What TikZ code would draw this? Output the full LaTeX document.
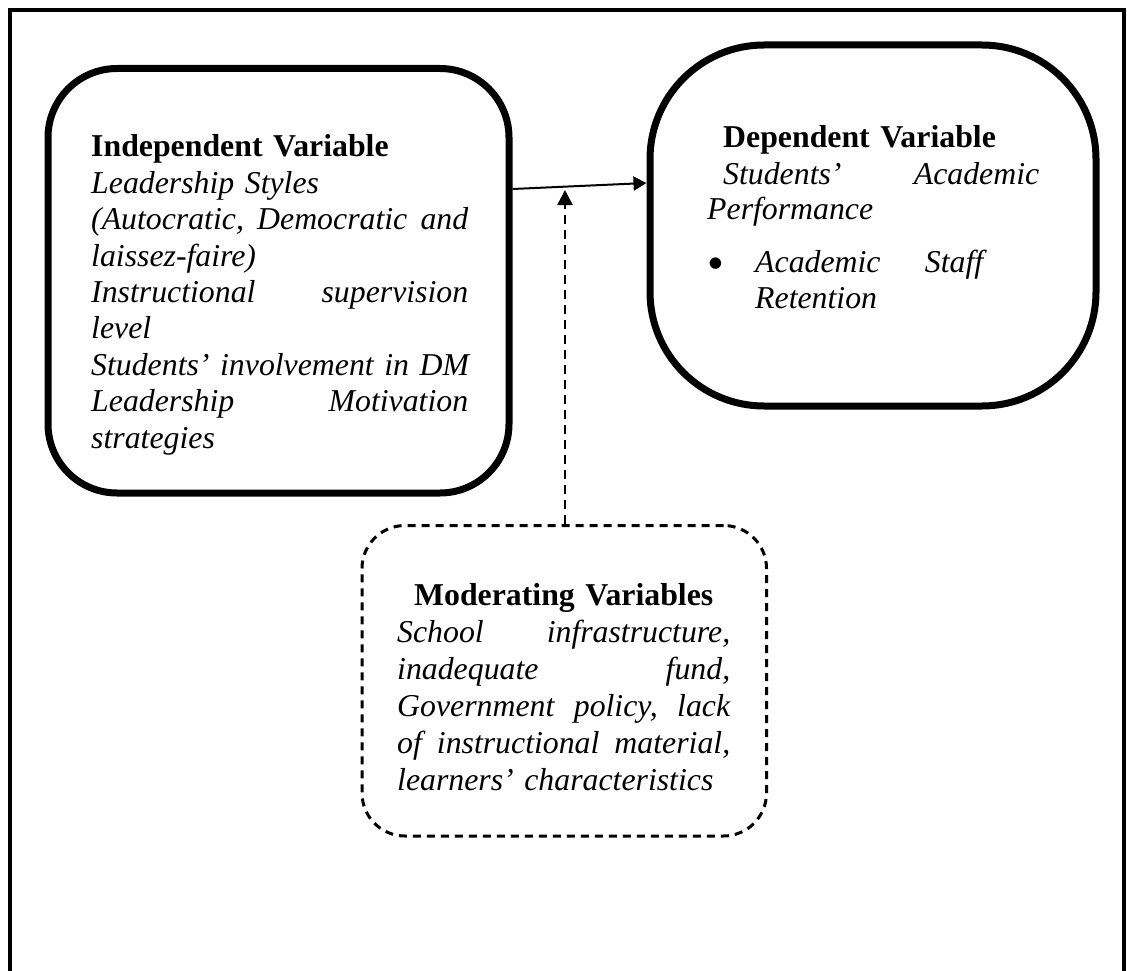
\documentclass[tikz,border=0pt]{standalone}
\usepackage{fontspec}
\setmainfont{Liberation Serif}
\usetikzlibrary{arrows.meta}
% a line whose words are spread over a fixed width
\newcommand\spreadline[2]{\leavevmode\hbox to #1{#2}}
\begin{document}
\begin{tikzpicture}[x=1pt,y=-1pt,
  varbox/.style={draw, line width=7pt, rounded corners=#1, inner sep=0pt},
  modbox/.style={draw, line width=3pt, dash pattern=on 8pt off 6pt,
    rounded corners=43pt, inner sep=0pt},
  boxtext/.style={inner sep=0pt, anchor=base west, align=left, text width=450pt,
    font=\fontsize{31.8pt}{36.4pt}\selectfont\itshape},
  conn/.style={line width=2pt, -{Triangle[length=13pt,width=14pt]}},
  dconn/.style={line width=2.5pt, dash pattern=on 9pt off 6pt,
    -{Triangle[length=15pt,width=15pt]}},
  frameline/.style={line width=4pt}]
\useasboundingbox (0,0) rectangle (1127,971);
\fill[white] (0,0) rectangle (1127,971);

% outer frame, open at the bottom
\draw[frameline] (9.5,971) -- (9.5,10.5) -- (1124,10.5) -- (1124,971);

% the three variable boxes
\node[varbox=69pt, minimum width=461pt, minimum height=424.5pt] (indep) at (278.5,280.75) {};
\node[varbox=114pt, minimum width=446pt, minimum height=361pt] (dep) at (873,225.5) {};
\node[modbox, minimum width=404.5pt, minimum height=310.5pt] (moder) at (564.25,680.75) {};

% independent variable text
\node[boxtext] (indeptext) at (91,157)
  {\textup{\bfseries Independent Variable}\\
   Leadership Styles\\
   \spreadline{377pt}{(Autocratic,\hfill Democratic\hfill and}\\
   laissez-faire)\\
   \spreadline{377pt}{Instructional\hfill supervision}\\
   level\\
   Students’ involvement in DM\\
   \spreadline{377pt}{Leadership\hfill Motivation}\\
   strategies};

% dependent variable text
\node[boxtext, font=\fontsize{31.8pt}{36pt}\selectfont\itshape] (deptext) at (707,148)
  {\hspace*{16pt}\textup{\bfseries Dependent Variable}\\
   \hspace*{16pt}\spreadline{316pt}{Students’\hfill Academic}\\
   Performance\\[17pt]
   \makebox[48pt][l]{\upshape\raisebox{-6pt}{\fontsize{48pt}{36pt}\selectfont •}}\spreadline{228pt}{Academic\hfill Staff}\\
   \hspace*{48pt}Retention};

% moderating variables text
\node[boxtext, font=\fontsize{31.8pt}{37pt}\selectfont\itshape] (modtext) at (397,605)
  {\spreadline{333pt}{\hfil\upshape\bfseries Moderating Variables\hfil}\\
   \spreadline{333pt}{School\hfill infrastructure,}\\
   \spreadline{333pt}{inadequate\hfill fund,}\\
   \spreadline{333pt}{Government\hfill policy,\hfill lack}\\
   \spreadline{333pt}{of\hfill instructional\hfill material,}\\
   learners’ characteristics};

% connectors
\draw[conn] (indep.east |- 0,189) -- (dep.west |- 0,183);
\coordinate (modtip) at (565,190);
\draw[dconn] (moder.north -| modtip) -- (modtip);
\end{tikzpicture}
\end{document}
